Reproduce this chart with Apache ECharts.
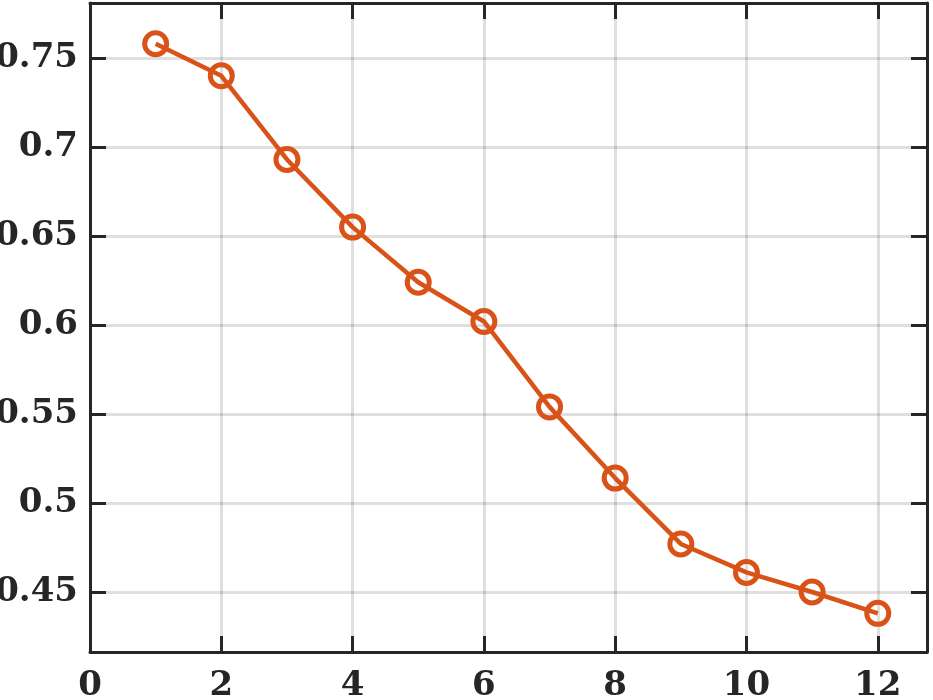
<!DOCTYPE html>
<html>
<head>
<meta charset="utf-8">
<script src="https://cdn.jsdelivr.net/npm/echarts@6/dist/echarts.min.js"></script>
<style>html,body{margin:0;padding:0;background:#fff}#c{width:933px;height:700px}</style>
</head>
<body>
<div id="c"></div>
<script>
const xValues = [1, 2, 3, 4, 5, 6, 7, 8, 9, 10, 11, 12];
const yValues = [0.758, 0.740, 0.693, 0.655, 0.624, 0.602, 0.554, 0.514, 0.477, 0.461, 0.450, 0.438];
const xTicks = [0, 2, 4, 6, 8, 10, 12];
const yTicks = [0.45, 0.5, 0.55, 0.6, 0.65, 0.7, 0.75];
const yLabels = ['0.45', '0.5', '0.55', '0.6', '0.65', '0.7', '0.75'];

const ink = '#262626';
const font = {fontFamily: 'DejaVu Serif', fontWeight: 'bold', fontSize: 34, color: ink};
const gridLine = {show: true, lineStyle: {color: 'rgba(38,38,38,0.15)', width: 3}};
const tick = (vals) => ({show: true, inside: true, length: 16, customValues: vals, lineStyle: {color: ink, width: 3}});
const line = {show: true, onZero: false, lineStyle: {color: ink, width: 3}};

const chart = echarts.init(document.getElementById('c'));
chart.setOption({
  animation: false,
  grid: {left: 90, right: 6, top: 3, bottom: 48, containLabel: false, outerBoundsMode: 'none'},
  xAxis: [
    {type: 'value', position: 'bottom', min: 0, max: 12.75,
     axisLine: line, axisTick: tick(xTicks), splitLine: gridLine,
     axisLabel: Object.assign({customValues: xTicks, margin: 17}, font)},
    {type: 'value', position: 'top', min: 0, max: 12.75,
     axisLine: line, axisTick: tick(xTicks), splitLine: {show: false},
     axisLabel: {show: false}}
  ],
  yAxis: [
    {type: 'value', position: 'left', min: 0.4163, max: 0.7809,
     axisLine: line, axisTick: tick(yTicks), splitLine: gridLine,
     axisLabel: Object.assign({customValues: yTicks, margin: 12,
       formatter: v => { const i = yTicks.findIndex(t => Math.abs(t - v) < 1e-9); return i >= 0 ? yLabels[i] : ''; }}, font)},
    {type: 'value', position: 'right', min: 0.4163, max: 0.7809,
     axisLine: line, axisTick: tick(yTicks), splitLine: {show: false},
     axisLabel: {show: false}}
  ],
  series: [{
    type: 'line',
    xAxisIndex: 0, yAxisIndex: 0,
    data: xValues.map((x, i) => [x, yValues[i]]),
    symbol: 'circle', symbolSize: 22,
    lineStyle: {color: '#D95319', width: 4.5},
    itemStyle: {color: 'rgba(0,0,0,0)', borderColor: '#D95319', borderWidth: 5},
    z: 5
  }]
});
</script>
</body>
</html>
